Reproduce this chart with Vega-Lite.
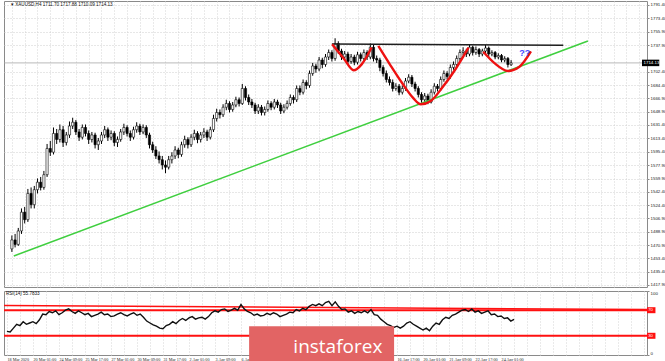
{
  "$schema": "https://vega.github.io/schema/vega-lite/v6.json",
  "padding": 0,
  "background": "white",
  "spacing": 1,
  "config": {
    "view": {"stroke": "#8a8a8a", "strokeWidth": 1},
    "axis": {"labelFont": "Liberation Sans", "labelColor": "#222", "labelFontSize": 4.4, "title": null, "labelOverlap": false},
    "text": {"font": "Liberation Sans"}
  },
  "datasets": {
    "bars": [
      {"i":0,"o":1466,"h":1484,"l":1462,"c":1478,"r":37},
      {"i":1,"o":1478,"h":1486,"l":1468,"c":1472,"r":36},
      {"i":2,"o":1472,"h":1494,"l":1470,"c":1490,"r":42},
      {"i":3,"o":1490,"h":1520,"l":1486,"c":1515,"r":48},
      {"i":4,"o":1515,"h":1522,"l":1500,"c":1505,"r":46},
      {"i":5,"o":1505,"h":1546,"l":1502,"c":1540,"r":52},
      {"i":6,"o":1540,"h":1548,"l":1520,"c":1525,"r":48},
      {"i":7,"o":1525,"h":1550,"l":1520,"c":1545,"r":50},
      {"i":8,"o":1545,"h":1560,"l":1540,"c":1555,"r":52},
      {"i":9,"o":1555,"h":1562,"l":1544,"c":1548,"r":49},
      {"i":10,"o":1548,"h":1570,"l":1545,"c":1565,"r":55},
      {"i":11,"o":1565,"h":1606,"l":1562,"c":1600,"r":64},
      {"i":12,"o":1600,"h":1610,"l":1590,"c":1595,"r":63},
      {"i":13,"o":1595,"h":1628,"l":1592,"c":1620,"r":68},
      {"i":14,"o":1620,"h":1626,"l":1606,"c":1612,"r":66},
      {"i":15,"o":1612,"h":1632,"l":1608,"c":1625,"r":69},
      {"i":16,"o":1625,"h":1630,"l":1602,"c":1608,"r":63},
      {"i":17,"o":1608,"h":1622,"l":1604,"c":1618,"r":66},
      {"i":18,"o":1618,"h":1636,"l":1614,"c":1630,"r":70},
      {"i":19,"o":1630,"h":1641,"l":1626,"c":1635,"r":72},
      {"i":20,"o":1635,"h":1638,"l":1618,"c":1622,"r":68},
      {"i":21,"o":1622,"h":1626,"l":1610,"c":1615,"r":65},
      {"i":22,"o":1615,"h":1632,"l":1612,"c":1628,"r":69},
      {"i":23,"o":1628,"h":1632,"l":1616,"c":1620,"r":66},
      {"i":24,"o":1620,"h":1624,"l":1606,"c":1612,"r":63},
      {"i":25,"o":1612,"h":1622,"l":1608,"c":1618,"r":65},
      {"i":26,"o":1618,"h":1621,"l":1600,"c":1605,"r":60},
      {"i":27,"o":1605,"h":1614,"l":1598,"c":1610,"r":62},
      {"i":28,"o":1610,"h":1622,"l":1606,"c":1618,"r":64},
      {"i":29,"o":1618,"h":1630,"l":1614,"c":1625,"r":67},
      {"i":30,"o":1625,"h":1628,"l":1610,"c":1615,"r":63},
      {"i":31,"o":1615,"h":1624,"l":1611,"c":1620,"r":64},
      {"i":32,"o":1620,"h":1623,"l":1603,"c":1608,"r":60},
      {"i":33,"o":1608,"h":1616,"l":1602,"c":1612,"r":61},
      {"i":34,"o":1612,"h":1626,"l":1609,"c":1622,"r":64},
      {"i":35,"o":1622,"h":1633,"l":1618,"c":1628,"r":66},
      {"i":36,"o":1628,"h":1631,"l":1616,"c":1620,"r":63},
      {"i":37,"o":1620,"h":1624,"l":1610,"c":1615,"r":61},
      {"i":38,"o":1615,"h":1629,"l":1612,"c":1625,"r":64},
      {"i":39,"o":1625,"h":1635,"l":1621,"c":1630,"r":66},
      {"i":40,"o":1630,"h":1633,"l":1618,"c":1622,"r":62},
      {"i":41,"o":1622,"h":1632,"l":1619,"c":1628,"r":64},
      {"i":42,"o":1628,"h":1631,"l":1614,"c":1618,"r":59},
      {"i":43,"o":1618,"h":1621,"l":1600,"c":1605,"r":53},
      {"i":44,"o":1605,"h":1609,"l":1594,"c":1598,"r":50},
      {"i":45,"o":1598,"h":1603,"l":1586,"c":1590,"r":47},
      {"i":46,"o":1590,"h":1596,"l":1580,"c":1585,"r":45},
      {"i":47,"o":1585,"h":1590,"l":1572,"c":1578,"r":42},
      {"i":48,"o":1578,"h":1584,"l":1567,"c":1575,"r":41},
      {"i":49,"o":1575,"h":1590,"l":1572,"c":1585,"r":46},
      {"i":50,"o":1585,"h":1595,"l":1580,"c":1590,"r":48},
      {"i":51,"o":1590,"h":1603,"l":1586,"c":1598,"r":52},
      {"i":52,"o":1598,"h":1601,"l":1587,"c":1592,"r":49},
      {"i":53,"o":1592,"h":1609,"l":1589,"c":1605,"r":54},
      {"i":54,"o":1605,"h":1617,"l":1601,"c":1612,"r":57},
      {"i":55,"o":1612,"h":1615,"l":1600,"c":1605,"r":54},
      {"i":56,"o":1605,"h":1619,"l":1602,"c":1615,"r":58},
      {"i":57,"o":1615,"h":1625,"l":1611,"c":1620,"r":60},
      {"i":58,"o":1620,"h":1623,"l":1607,"c":1612,"r":56},
      {"i":59,"o":1612,"h":1622,"l":1608,"c":1618,"r":58},
      {"i":60,"o":1618,"h":1627,"l":1614,"c":1622,"r":59},
      {"i":61,"o":1622,"h":1625,"l":1610,"c":1615,"r":56},
      {"i":62,"o":1615,"h":1629,"l":1612,"c":1625,"r":60},
      {"i":63,"o":1625,"h":1645,"l":1622,"c":1640,"r":66},
      {"i":64,"o":1640,"h":1653,"l":1636,"c":1648,"r":69},
      {"i":65,"o":1648,"h":1652,"l":1640,"c":1645,"r":67},
      {"i":66,"o":1645,"h":1659,"l":1642,"c":1655,"r":71},
      {"i":67,"o":1655,"h":1665,"l":1651,"c":1660,"r":72},
      {"i":68,"o":1660,"h":1663,"l":1648,"c":1652,"r":68},
      {"i":69,"o":1652,"h":1662,"l":1649,"c":1658,"r":70},
      {"i":70,"o":1658,"h":1669,"l":1655,"c":1665,"r":73},
      {"i":71,"o":1665,"h":1668,"l":1656,"c":1660,"r":70},
      {"i":72,"o":1660,"h":1686,"l":1658,"c":1680,"r":79},
      {"i":73,"o":1680,"h":1683,"l":1664,"c":1668,"r":72},
      {"i":74,"o":1668,"h":1672,"l":1658,"c":1662,"r":68},
      {"i":75,"o":1662,"h":1666,"l":1654,"c":1658,"r":66},
      {"i":76,"o":1658,"h":1661,"l":1646,"c":1650,"r":62},
      {"i":77,"o":1650,"h":1659,"l":1646,"c":1655,"r":64},
      {"i":78,"o":1655,"h":1658,"l":1644,"c":1648,"r":61},
      {"i":79,"o":1648,"h":1656,"l":1644,"c":1652,"r":62},
      {"i":80,"o":1652,"h":1664,"l":1649,"c":1660,"r":65},
      {"i":81,"o":1660,"h":1663,"l":1651,"c":1655,"r":63},
      {"i":82,"o":1655,"h":1666,"l":1652,"c":1662,"r":66},
      {"i":83,"o":1662,"h":1665,"l":1654,"c":1658,"r":64},
      {"i":84,"o":1658,"h":1661,"l":1646,"c":1650,"r":60},
      {"i":85,"o":1650,"h":1659,"l":1647,"c":1655,"r":62},
      {"i":86,"o":1655,"h":1664,"l":1652,"c":1660,"r":64},
      {"i":87,"o":1660,"h":1672,"l":1657,"c":1668,"r":67},
      {"i":88,"o":1668,"h":1671,"l":1660,"c":1665,"r":66},
      {"i":89,"o":1665,"h":1684,"l":1662,"c":1680,"r":71},
      {"i":90,"o":1680,"h":1684,"l":1671,"c":1675,"r":69},
      {"i":91,"o":1675,"h":1692,"l":1672,"c":1688,"r":73},
      {"i":92,"o":1688,"h":1691,"l":1679,"c":1684,"r":71},
      {"i":93,"o":1684,"h":1704,"l":1681,"c":1700,"r":76},
      {"i":94,"o":1700,"h":1714,"l":1697,"c":1710,"r":79},
      {"i":95,"o":1710,"h":1713,"l":1701,"c":1706,"r":77},
      {"i":96,"o":1706,"h":1722,"l":1703,"c":1718,"r":80},
      {"i":97,"o":1718,"h":1721,"l":1707,"c":1712,"r":77},
      {"i":98,"o":1712,"h":1726,"l":1709,"c":1722,"r":82},
      {"i":99,"o":1722,"h":1732,"l":1718,"c":1728,"r":84},
      {"i":100,"o":1728,"h":1731,"l":1716,"c":1720,"r":77},
      {"i":101,"o":1720,"h":1747,"l":1717,"c":1740,"r":83},
      {"i":102,"o":1740,"h":1743,"l":1726,"c":1730,"r":76},
      {"i":103,"o":1730,"h":1733,"l":1718,"c":1722,"r":71},
      {"i":104,"o":1722,"h":1730,"l":1719,"c":1726,"r":72},
      {"i":105,"o":1726,"h":1729,"l":1712,"c":1716,"r":67},
      {"i":106,"o":1716,"h":1726,"l":1713,"c":1722,"r":69},
      {"i":107,"o":1722,"h":1725,"l":1711,"c":1715,"r":65},
      {"i":108,"o":1715,"h":1729,"l":1712,"c":1725,"r":68},
      {"i":109,"o":1725,"h":1728,"l":1716,"c":1720,"r":66},
      {"i":110,"o":1720,"h":1732,"l":1717,"c":1728,"r":69},
      {"i":111,"o":1728,"h":1731,"l":1718,"c":1722,"r":66},
      {"i":112,"o":1722,"h":1740,"l":1719,"c":1735,"r":71},
      {"i":113,"o":1735,"h":1738,"l":1716,"c":1720,"r":63},
      {"i":114,"o":1720,"h":1724,"l":1714,"c":1718,"r":62},
      {"i":115,"o":1718,"h":1721,"l":1703,"c":1708,"r":56},
      {"i":116,"o":1708,"h":1711,"l":1696,"c":1700,"r":52},
      {"i":117,"o":1700,"h":1704,"l":1688,"c":1692,"r":48},
      {"i":118,"o":1692,"h":1696,"l":1684,"c":1688,"r":46},
      {"i":119,"o":1688,"h":1692,"l":1676,"c":1680,"r":43},
      {"i":120,"o":1680,"h":1687,"l":1677,"c":1683,"r":45},
      {"i":121,"o":1683,"h":1686,"l":1671,"c":1675,"r":42},
      {"i":122,"o":1675,"h":1684,"l":1672,"c":1680,"r":45},
      {"i":123,"o":1680,"h":1694,"l":1677,"c":1690,"r":50},
      {"i":124,"o":1690,"h":1699,"l":1687,"c":1695,"r":52},
      {"i":125,"o":1695,"h":1698,"l":1682,"c":1686,"r":48},
      {"i":126,"o":1686,"h":1689,"l":1676,"c":1680,"r":45},
      {"i":127,"o":1680,"h":1683,"l":1668,"c":1672,"r":42},
      {"i":128,"o":1672,"h":1675,"l":1661,"c":1665,"r":39},
      {"i":129,"o":1665,"h":1674,"l":1662,"c":1670,"r":42},
      {"i":130,"o":1670,"h":1673,"l":1659,"c":1662,"r":38},
      {"i":131,"o":1662,"h":1679,"l":1660,"c":1675,"r":45},
      {"i":132,"o":1675,"h":1687,"l":1672,"c":1683,"r":50},
      {"i":133,"o":1683,"h":1686,"l":1676,"c":1680,"r":48},
      {"i":134,"o":1680,"h":1696,"l":1677,"c":1692,"r":55},
      {"i":135,"o":1692,"h":1704,"l":1689,"c":1700,"r":59},
      {"i":136,"o":1700,"h":1703,"l":1692,"c":1696,"r":57},
      {"i":137,"o":1696,"h":1712,"l":1693,"c":1708,"r":62},
      {"i":138,"o":1708,"h":1716,"l":1705,"c":1712,"r":64},
      {"i":139,"o":1712,"h":1724,"l":1709,"c":1720,"r":67},
      {"i":140,"o":1720,"h":1732,"l":1717,"c":1728,"r":70},
      {"i":141,"o":1728,"h":1735,"l":1724,"c":1730,"r":71},
      {"i":142,"o":1730,"h":1733,"l":1722,"c":1726,"r":68},
      {"i":143,"o":1726,"h":1739,"l":1723,"c":1735,"r":72},
      {"i":144,"o":1735,"h":1737,"l":1724,"c":1728,"r":67},
      {"i":145,"o":1728,"h":1736,"l":1725,"c":1732,"r":69},
      {"i":146,"o":1732,"h":1734,"l":1722,"c":1726,"r":65},
      {"i":147,"o":1726,"h":1733,"l":1723,"c":1730,"r":67},
      {"i":148,"o":1730,"h":1738,"l":1727,"c":1734,"r":69},
      {"i":149,"o":1734,"h":1736,"l":1722,"c":1726,"r":63},
      {"i":150,"o":1726,"h":1731,"l":1723,"c":1728,"r":64},
      {"i":151,"o":1728,"h":1730,"l":1719,"c":1722,"r":60},
      {"i":152,"o":1722,"h":1727,"l":1719,"c":1724,"r":61},
      {"i":153,"o":1724,"h":1726,"l":1715,"c":1718,"r":57},
      {"i":154,"o":1718,"h":1723,"l":1715,"c":1720,"r":58},
      {"i":155,"o":1720,"h":1722,"l":1708,"c":1712,"r":53},
      {"i":156,"o":1711.7,"h":1717.88,"l":1710.09,"c":1714.13,"r":55.78}
    ],
    "redcurves": [
      {"g":1,"i":100.1,"p":1739.0},{"g":1,"i":103.7,"p":1720.1},{"g":1,"i":106.8,"p":1704.3},{"g":1,"i":109.3,"p":1712.2},{"g":1,"i":112.4,"p":1734.6},
      {"g":2,"i":114.5,"p":1736.7},{"g":2,"i":118.1,"p":1712.2},{"g":2,"i":122.2,"p":1685.6},{"g":2,"i":125.3,"p":1667.8},{"g":2,"i":127.8,"p":1659.0},{"g":2,"i":130.9,"p":1663.4},{"g":2,"i":134.5,"p":1681.2},{"g":2,"i":138.6,"p":1705.7},{"g":2,"i":142.7,"p":1734.6},
      {"g":3,"i":147.3,"p":1729.0},{"g":3,"i":150.9,"p":1713.5},{"g":3,"i":155.0,"p":1703.4},{"g":3,"i":158.6,"p":1709.1},{"g":3,"i":162.2,"p":1729.5}
    ]
  },
  "vconcat": [
    {
      "width": 643,
      "height": 286,
      "layer": [
        {
          "data": {"values": [{"p": 1714.13}]},
          "mark": {"type": "rule", "color": "#a8a8a8", "strokeWidth": 0.8},
          "encoding": {
            "y": {"field": "p", "type": "quantitative", "scale": {"domain": [1415.2, 1796.7], "nice": false, "zero": false},
              "axis": {"orient": "right", "values": [1417.9,1435.4,1453.4,1470.9,1488.9,1506.9,1524.4,1542.4,1559.9,1577.9,1595.4,1613.4,1631.4,1648.9,1666.9,1684.4,1702.4,1737.9,1755.9,1773.4,1791.4],
                "tickCount": 500, "format": ".2f", "grid": true, "gridColor": "#cfcfcf", "gridDash": [1, 2], "domain": false, "tickSize": 2, "tickColor": "#888", "labelPadding": 1, "labelFlush": false, "labelOverlap": false, "labelBound": false}}
          }
        },
        {
          "data": {"name": "bars"},
          "mark": {"type": "rule", "color": "#000", "strokeWidth": 1},
          "encoding": {
            "x": {"field": "i", "type": "quantitative", "scale": {"domain": [-0.9, 196.9], "nice": false, "zero": false},
              "axis": {"values": [0,4,8,12,16,20,24,28,32,36,40,44,48,52,56,60,64,68,72,76,80,84,88,92,96,100,104,108,112,116,120,124,128,132,136,140,144,148,152,156,160,164,168,172,176,180,184,188,192,196],
                "tickCount": 500, "labels": false, "ticks": false, "domain": false, "grid": true, "gridColor": "#d4d4d4", "gridDash": [1, 2]}},
            "y": {"field": "l", "type": "quantitative", "scale": {"domain": [1415.2, 1796.7], "nice": false, "zero": false}},
            "y2": {"field": "h"}
          }
        },
        {
          "data": {"name": "bars"},
          "mark": {"type": "bar", "size": 2.2, "stroke": "#000", "strokeWidth": 0.6},
          "encoding": {
            "x": {"field": "i", "type": "quantitative", "scale": {"domain": [-0.9, 196.9], "nice": false, "zero": false}},
            "y": {"field": "o", "type": "quantitative", "scale": {"domain": [1415.2, 1796.7], "nice": false, "zero": false}},
            "y2": {"field": "c"},
            "fill": {"condition": {"test": "datum.c >= datum.o", "value": "#ffffff"}, "value": "#000000"}
          }
        },
        {
          "data": {"values": [{"i": 0.6, "p": 1456.6}, {"i": 180, "p": 1743.4}]},
          "mark": {"type": "line", "color": "#3fcf3f", "strokeWidth": 1.6},
          "encoding": {
            "x": {"field": "i", "type": "quantitative", "scale": {"domain": [-0.9, 196.9], "nice": false, "zero": false}},
            "y": {"field": "p", "type": "quantitative", "scale": {"domain": [1415.2, 1796.7], "nice": false, "zero": false}}
          }
        },
        {
          "data": {"values": [{"i": 100, "p": 1739.5}, {"i": 172.3, "p": 1737.6}]},
          "mark": {"type": "line", "color": "#1e1e1e", "strokeWidth": 1.5},
          "encoding": {
            "x": {"field": "i", "type": "quantitative", "scale": {"domain": [-0.9, 196.9], "nice": false, "zero": false}},
            "y": {"field": "p", "type": "quantitative", "scale": {"domain": [1415.2, 1796.7], "nice": false, "zero": false}}
          }
        },
        {
          "data": {"name": "redcurves"},
          "mark": {"type": "line", "color": "#ee1111", "strokeWidth": 2.4, "interpolate": "monotone"},
          "encoding": {
            "x": {"field": "i", "type": "quantitative", "scale": {"domain": [-0.9, 196.9], "nice": false, "zero": false}},
            "y": {"field": "p", "type": "quantitative", "scale": {"domain": [1415.2, 1796.7], "nice": false, "zero": false}},
            "detail": {"field": "g", "type": "nominal"}
          }
        },
        {
          "data": {"values": [{"i": 160.3, "p": 1727, "t": "??"}]},
          "mark": {"type": "text", "color": "#4646ff", "fontSize": 9, "fontWeight": "bold", "align": "center", "baseline": "middle"},
          "encoding": {
            "x": {"field": "i", "type": "quantitative", "scale": {"domain": [-0.9, 196.9], "nice": false, "zero": false}},
            "y": {"field": "p", "type": "quantitative", "scale": {"domain": [1415.2, 1796.7], "nice": false, "zero": false}},
            "text": {"field": "t"}
          }
        },
        {
          "data": {"values": [{"i": -0.3, "p": 1791.0, "t": "▾ XAUUSD,H4  1711.70 1717.88 1710.09 1714.13"}]},
          "mark": {"type": "text", "color": "#111", "fontSize": 4.6, "align": "left", "baseline": "middle"},
          "encoding": {
            "x": {"field": "i", "type": "quantitative", "scale": {"domain": [-0.9, 196.9], "nice": false, "zero": false}},
            "y": {"field": "p", "type": "quantitative", "scale": {"domain": [1415.2, 1796.7], "nice": false, "zero": false}},
            "text": {"field": "t"}
          }
        },
        {
          "data": {"values": [{"i": 196.9, "i2": 202.3, "p": 1714.13}]},
          "mark": {"type": "rule", "color": "#000", "strokeWidth": 6.5},
          "encoding": {
            "x": {"field": "i", "type": "quantitative", "scale": {"domain": [-0.9, 196.9], "nice": false, "zero": false}},
            "x2": {"field": "i2"},
            "y": {"field": "p", "type": "quantitative", "scale": {"domain": [1415.2, 1796.7], "nice": false, "zero": false}}
          }
        },
        {
          "data": {"values": [{"i": 196.9, "p": 1714.13, "t": "1714.13"}]},
          "mark": {"type": "text", "color": "#fff", "fontSize": 4.4, "align": "left", "baseline": "middle", "dx": 1.5},
          "encoding": {
            "x": {"field": "i", "type": "quantitative", "scale": {"domain": [-0.9, 196.9], "nice": false, "zero": false}},
            "y": {"field": "p", "type": "quantitative", "scale": {"domain": [1415.2, 1796.7], "nice": false, "zero": false}},
            "text": {"field": "t"}
          }
        }
      ]
    },
    {
      "width": 643,
      "height": 64,
      "layer": [
        {
          "data": {"values": [{"i": -0.9, "r": 77.5}, {"i": 196.9, "r": 71}]},
          "mark": {"type": "line", "color": "#ff1010", "strokeWidth": 1.5},
          "encoding": {
            "x": {"field": "i", "type": "quantitative", "scale": {"domain": [-0.9, 196.9], "nice": false, "zero": false},
              "axis": {"values": [0,4,8,12,16,20,24,28,32,36,40,44,48,52,56,60,64,68,72,76,80,84,88,92,96,100,104,108,112,116,120,124,128,132,136,140,144,148,152,156,160,164,168,172,176,180,184,188,192,196],
                "tickCount": 500, "grid": true, "gridColor": "#d4d4d4", "gridDash": [1, 2], "ticks": false, "domain": false, "labelAlign": "left", "labelPadding": 2, "labelFlush": false, "labelOverlap": false, "labelBound": false,
                "labelFont": "Liberation Sans Narrow", "labelFontSize": 4.2,
                "labelExpr": "datum.value % 8 == 0 && datum.value <= 152 ? ['18 Mar 2020','20 Mar 01:00','24 Mar 09:00','25 Mar 17:00','27 Mar 01:00','30 Mar 09:00','31 Mar 17:00','2 Apr 01:00','3 Apr 09:00','6 Apr 17:00','8 Apr 01:00','9 Apr 09:00','10 Apr 17:00','14 Apr 01:00','15 Apr 09:00','16 Apr 17:00','20 Apr 01:00','21 Apr 09:00','22 Apr 17:00','24 Apr 01:00'][datum.value / 8] : ''"}},
            "y": {"field": "r", "type": "quantitative", "scale": {"domain": [0, 100], "nice": false, "zero": false},
              "axis": {"orient": "right", "values": [0, 100], "tickCount": 50, "format": "d", "grid": false, "domain": false, "tickSize": 2, "tickColor": "#888", "labelPadding": 1, "labelFlush": true, "labelOverlap": false}}
          }
        },
        {
          "data": {"values": [{"r": 70}, {"r": 30}]},
          "mark": {"type": "rule", "color": "#ff1010", "strokeWidth": 2},
          "encoding": {
            "y": {"field": "r", "type": "quantitative", "scale": {"domain": [0, 100], "nice": false, "zero": false}}
          }
        },
        {
          "data": {"name": "bars"},
          "mark": {"type": "line", "color": "#111", "strokeWidth": 1.4},
          "encoding": {
            "x": {"field": "i", "type": "quantitative", "scale": {"domain": [-0.9, 196.9], "nice": false, "zero": false}},
            "y": {"field": "r", "type": "quantitative", "scale": {"domain": [0, 100], "nice": false, "zero": false}}
          }
        },
        {
          "data": {"values": [{"i": 74.5, "i2": 119.1, "r": 45, "r2": -15.6}]},
          "mark": {"type": "rect", "color": "#e26464"},
          "encoding": {
            "x": {"field": "i", "type": "quantitative", "scale": {"domain": [-0.9, 196.9], "nice": false, "zero": false}},
            "x2": {"field": "i2"},
            "y": {"field": "r", "type": "quantitative", "scale": {"domain": [0, 100], "nice": false, "zero": false}},
            "y2": {"field": "r2"}
          }
        },
        {
          "data": {"values": [{"i": 101.8, "r": 13, "t": "instaforex"}]},
          "mark": {"type": "text", "color": "#ffffff", "fontSize": 19, "font": "Open Sans", "align": "center", "baseline": "middle"},
          "encoding": {
            "x": {"field": "i", "type": "quantitative", "scale": {"domain": [-0.9, 196.9], "nice": false, "zero": false}},
            "y": {"field": "r", "type": "quantitative", "scale": {"domain": [0, 100], "nice": false, "zero": false}},
            "text": {"field": "t"}
          }
        },
        {
          "data": {"values": [{"i": -0.3, "r": 95, "t": "RSI(14) 55.7833"}]},
          "mark": {"type": "text", "color": "#111", "fontSize": 4.6, "align": "left", "baseline": "middle"},
          "encoding": {
            "x": {"field": "i", "type": "quantitative", "scale": {"domain": [-0.9, 196.9], "nice": false, "zero": false}},
            "y": {"field": "r", "type": "quantitative", "scale": {"domain": [0, 100], "nice": false, "zero": false}},
            "text": {"field": "t"}
          }
        },
        {
          "data": {"values": [{"i": 196.9, "i2": 199.5, "r": 70}, {"i": 196.9, "i2": 199.5, "r": 30}]},
          "mark": {"type": "rule", "color": "#ff1010", "strokeWidth": 6},
          "encoding": {
            "x": {"field": "i", "type": "quantitative", "scale": {"domain": [-0.9, 196.9], "nice": false, "zero": false}},
            "x2": {"field": "i2"},
            "y": {"field": "r", "type": "quantitative", "scale": {"domain": [0, 100], "nice": false, "zero": false}}
          }
        },
        {
          "data": {"values": [{"i": 196.9, "r": 70, "t": "70"}, {"i": 196.9, "r": 30, "t": "30"}]},
          "mark": {"type": "text", "color": "#fff", "fontSize": 4.2, "align": "left", "baseline": "middle", "dx": 1.2},
          "encoding": {
            "x": {"field": "i", "type": "quantitative", "scale": {"domain": [-0.9, 196.9], "nice": false, "zero": false}},
            "y": {"field": "r", "type": "quantitative", "scale": {"domain": [0, 100], "nice": false, "zero": false}},
            "text": {"field": "t"}
          }
        }
      ]
    }
  ]
}
